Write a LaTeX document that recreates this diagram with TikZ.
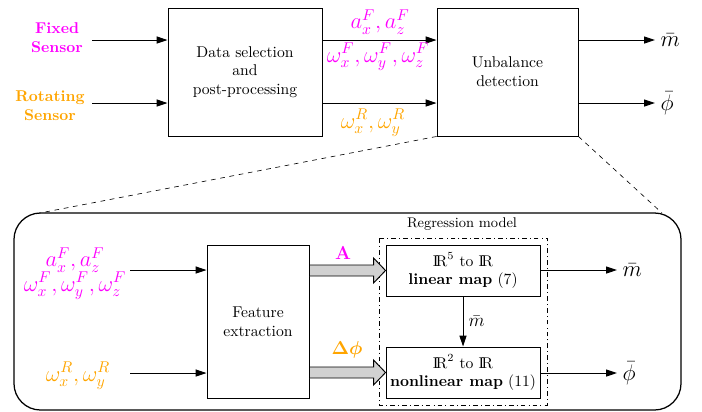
\documentclass[tikz,border=0pt]{standalone}
\usepackage{amsmath,amssymb}
\usepackage{tikz}
\usetikzlibrary{arrows.meta,calc,positioning}
\definecolor{fsmag}{RGB}{255,0,255}
\definecolor{rsorange}{RGB}{255,165,0}
\newcommand{\realset}{\mathrm{I\!R}}

\begin{document}
\begin{tikzpicture}[x=.64pt,y=-.64pt,>={Triangle[length=7pt,width=4.5pt]},
    blk/.style={draw,semithick,align=center,inner sep=2pt},
    lnk/.style={->,semithick},
    fat/.style={draw,semithick,fill=black!18},
    mlab/.style={font=\Large},
    senslab/.style={font=\bfseries,align=center}]
  \useasboundingbox (0,0) rectangle (702,411);
  % top chain
  \node[senslab,text=fsmag] (fixs) at (57,38) {Fixed\\Sensor};
  \node[senslab,text=rsorange] (rots) at (50,106) {Rotating\\Sensor};
  \coordinate (fin) at (92,40); \coordinate (rin) at (92,103);
  \node[blk,minimum width=98.56pt,minimum height=81.92pt] (dsel) at (245,72) {Data selection\\and\\post-processing};
  \node[blk,minimum width=90.24pt,minimum height=81.92pt] (unbal) at (507.5,72) {Unbalance\\detection};
  \coordinate (mout) at (655,40); \coordinate (pout) at (655,103);
  \draw[lnk] (fin) -- (dsel.west |- fin);
  \draw[lnk] (rin) -- (dsel.west |- rin);
  \draw[lnk] (dsel.east |- fin) -- (unbal.west |- fin);
  \draw[lnk] (dsel.east |- rin) -- (unbal.west |- rin);
  \draw[lnk] (unbal.east |- mout) -- (mout) node[right,mlab] {$\bar m$};
  \draw[lnk] (unbal.east |- pout) -- (pout) node[right,mlab] {$\bar \phi$};
  \node[mlab,text=fsmag] (aft) at (380,22) {$a_x^F, a_z^F$};
  \node[mlab,text=fsmag] (wft) at (378,57) {$\omega_x^F, \omega_y^F, \omega_z^F$};
  \node[mlab,text=rsorange] (wrt) at (373,123) {$\omega_x^R, \omega_y^R$};
  % zoomed detail
  \node[draw,thick,rounded corners=17pt,minimum width=426.9pt,minimum height=126.1pt] (zoom) at (347.5,311.5) {};
  \coordinate (zl) at (40,213); \coordinate (zr) at (662,213);
  \draw[dashed] (unbal.south west) -- (zl);
  \draw[dashed] (unbal.south east) -- (zr);
  \node[mlab,text=fsmag] (afb) at (75,260) {$a_x^F, a_z^F$};
  \node[mlab,text=fsmag] (wfb) at (75,286) {$\omega_x^F, \omega_y^F, \omega_z^F$};
  \node[mlab,text=rsorange] (wrb) at (78,376) {$\omega_x^R, \omega_y^R$};
  \coordinate (fbin) at (130,270); \coordinate (rbin) at (130,373);
  \node[blk,minimum width=65.28pt,minimum height=97.92pt] (feat) at (258,321.5) {Feature\\extraction};
  \node[blk,minimum width=98.56pt,minimum height=32.64pt] (lin) at (463,270.5) {$\realset^5$ to $\realset$\\\textbf{linear map} (7)};
  \node[blk,minimum width=98.56pt,minimum height=32.64pt] (nonlin) at (463,372.5) {$\realset^2$ to $\realset$\\\textbf{nonlinear map} (11)};
  \draw[semithick,dash dot] (379,238) rectangle (547,405);
  \node[font=\small] (regm) at (462,224) {Regression model};
  \draw[lnk] (fbin) -- (feat.west |- fbin);
  \draw[lnk] (rbin) -- (feat.west |- rbin);
  \foreach \yy/\nm in {270.5/lin,372.5/nonlin}{
    \coordinate (tip) at (\nm.west);
    \draw[fat] (feat.east |- tip) ++(0,-5.5) -- ($(tip)+(-12,-5.5)$) -- ($(tip)+(-12,-12.5)$) -- (tip)
      -- ($(tip)+(-12,12.5)$) -- ($(tip)+(-12,5.5)$) -- ($(feat.east |- tip)+(0,5.5)$) -- cycle;
  }
  \node[font=\large,text=fsmag] (alab) at (343,253) {$\mathbf{A}$};
  \node[font=\large,text=rsorange] (dplab) at (347,350) {$\boldsymbol{\Delta\phi}$};
  \draw[lnk] (lin) -- node[right,font=\large] {$\bar m$} (nonlin);
  \coordinate (mbout) at (617,270); \coordinate (pbout) at (617,373);
  \draw[lnk] (lin.east |- mbout) -- (mbout) node[right,mlab] {$\bar m$};
  \draw[lnk] (nonlin.east |- pbout) -- (pbout) node[right,mlab] {$\bar \phi$};
\end{tikzpicture}
\end{document}
